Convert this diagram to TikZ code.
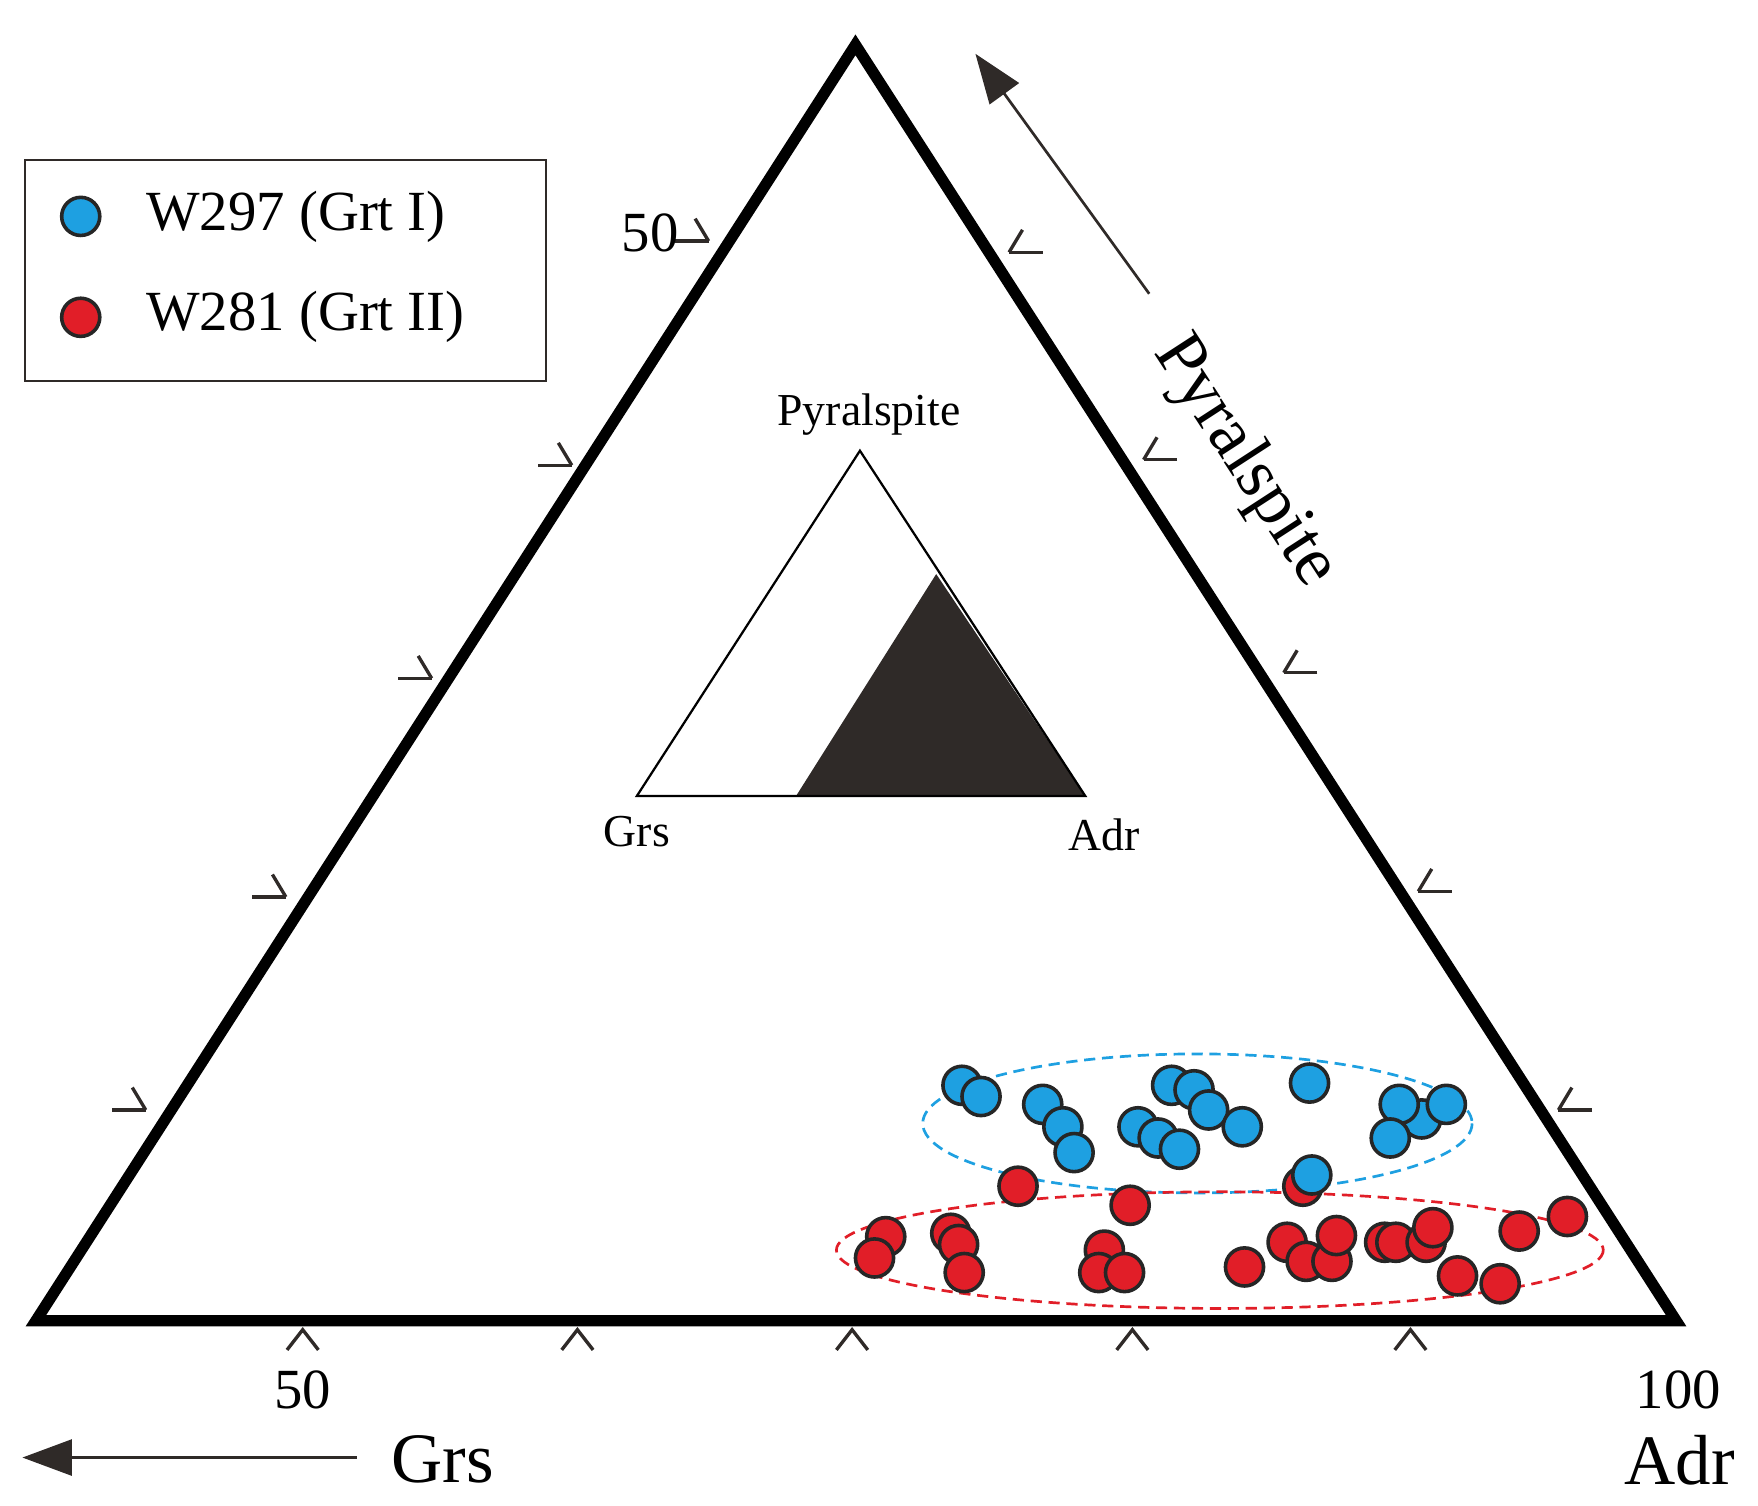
\documentclass[tikz,border=0pt]{standalone}
\usepackage{fontspec}
\setmainfont{Liberation Serif}
\usetikzlibrary{arrows.meta}
\definecolor{bl}{RGB}{30,160,225}
\definecolor{rd}{RGB}{225,30,40}
\definecolor{dk}{RGB}{47,42,40}
\tikzset{
 bpt/.style={circle,draw=black!85,line width=1.6mm,fill=bl,minimum size=1.7cm,inner sep=0pt},
 rpt/.style={circle,draw=black!85,line width=1.6mm,fill=rd,minimum size=1.7cm,inner sep=0pt},
 tk/.style={line width=1.5mm,draw=dk},
 big/.style={font=\fontsize{90}{90}\selectfont},
 mid/.style={font=\fontsize{72}{72}\selectfont},
 sm/.style={font=\fontsize{58}{58}\selectfont},
}
\begin{document}
\begin{tikzpicture}[x=0.05cm,y=-0.05cm]
\useasboundingbox (0,0) rectangle (1568,1343);
\coordinate (L) at (32,1178); \coordinate (R) at (1495,1178); \coordinate (T) at (763,40);
\draw[line width=5mm,line join=miter,black] (L)--(R)--(T)--cycle;
% ticks bottom
\foreach \x in {270,515,760,1010,1258} \draw[tk] (\x-14,1204)--(\x,1186)--(\x+14,1204);
% ticks left
\foreach \x/\y in {130/990,255/800,385/605,510/415,632/215} {\draw[tk] (\x-12,\y-20)--(\x,\y); \draw[tk] (\x-30,\y)--(\x,\y);}
% ticks right
\foreach \x/\y in {900/225,1020/410,1145/600,1265/795,1390/990} {\draw[tk] (\x+12,\y-20)--(\x,\y); \draw[tk] (\x+30,\y)--(\x,\y);}
% inset
\coordinate (g) at (568,710); \coordinate (a) at (968,710); \coordinate (p) at (767,402);
\fill[dk] (710,710)--(968,710)--(835,512)--cycle;
\draw[line width=1mm,black] (g)--(a)--(p)--cycle;
\node[sm] (pl) at (775,370) {Pyralspite};
\node[sm] (gl) at (568,742) {Grs};
\node[sm] (al) at (985,745) {Adr};
% ellipses
\draw[bl,line width=1.2mm,dash pattern=on 5mm off 3mm] (1068,1002) ellipse [x radius=245,y radius=62];
\draw[rd,line width=1.2mm,dash pattern=on 5mm off 3mm] (1088,1115) ellipse [x radius=342,y radius=52];
% red points
\foreach \x/\y [count=\i] in {1162/1058,908/1058,1008/1075,790/1103,780/1122,848/1100,855/1110,860/1135,985/1115,980/1135,1003/1135,1110/1130,1148/1108,1165/1125,1188/1125,1192/1102,1235/1108,1245/1108,1272/1108,1278/1095,1300/1138,1338/1145,1355/1098,1398/1085}
 \node[rpt] (r\i) at (\x,\y) {};
% blue points
\foreach \x/\y [count=\i] in {858/968,875/978,930/985,948/1005,958/1028,1015/1005,1033/1015,1052/1025,1045/968,1065/972,1078/990,1108/1005,1168/966,1170/1048,1268/998,1248/985,1290/985,1240/1015}
 \node[bpt] (b\i) at (\x,\y) {};
% arrows
\coordinate (a1s) at (1025,262); \coordinate (a1e) at (870,48);
\draw[dk,line width=1.2mm,-{Triangle[length=2.2cm,width=1.6cm]}] (a1s)--(a1e);
\coordinate (a2s) at (318,1300); \coordinate (a2e) at (20,1300);
\draw[dk,line width=1.2mm,-{Triangle[length=2.2cm,width=1.6cm]}] (a2s)--(a2e);
\node[big,rotate=-57] (py) at (1110,412) {Pyralspite};
\node[big] (grs) at (395,1302) {Grs};
\node[big] (adr) at (1498,1302) {Adr};
\node[mid] (n100) at (1497,1240) {100};
\node[mid] (n50b) at (270,1240) {50};
\node[mid] (n50l) at (580,208) {50};
% legend
\draw[line width=1mm,dk] (22,143) rectangle (487,340);
\node[bpt] (lb) at (72,193) {};
\node[rpt] (lr) at (72,283) {};
\node[mid,anchor=west] (tb) at (128,193) {W297 (Grt I)};
\node[mid,anchor=west] (tr) at (128,283) {W281 (Grt II)};
\end{tikzpicture}
\end{document}
